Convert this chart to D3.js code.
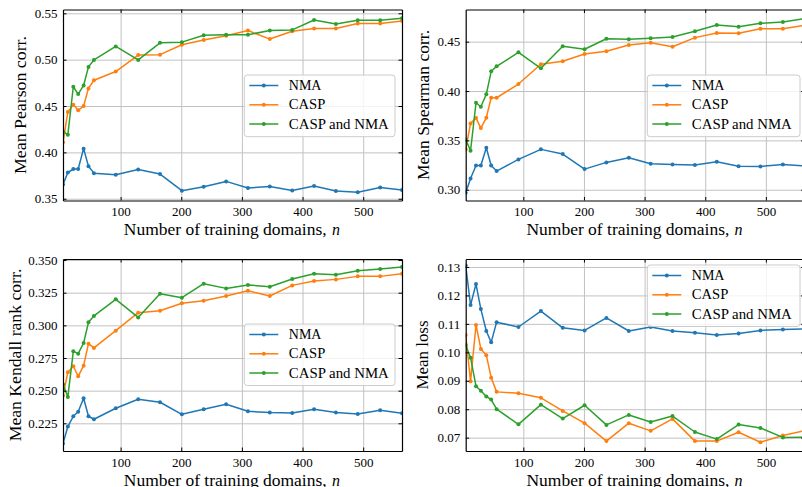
<!DOCTYPE html>
<html>
<head>
<meta charset="utf-8">
<script src="https://cdn.jsdelivr.net/npm/d3@7/dist/d3.min.js"></script>
<style>
  html, body { margin: 0; padding: 0; background: #fff; }
  svg { display: block; }
  text { font-family: "Liberation Serif", "Times New Roman", serif; fill: #000; }
</style>
</head>
<body>
<svg id="chart" width="802" height="487"></svg>
<script>
// ---------------- data ----------------
const nDomains = [5, 13, 22, 30, 39, 47, 56, 92, 129, 165, 201, 237, 274, 310, 346, 383, 419, 455, 491, 528, 564];
const seriesNames = ["NMA", "CASP", "CASP and NMA"];
const xTicks = [100, 200, 300, 400, 500];

const pearsonNMA  = [0.3654, 0.3783, 0.382, 0.382, 0.404, 0.385, 0.3776, 0.3758, 0.3815, 0.3766, 0.3587, 0.363, 0.3687, 0.3616, 0.3633, 0.359, 0.3637, 0.3584, 0.3569, 0.3622, 0.3594];
const pearsonCASP = [0.4108, 0.4436, 0.4515, 0.4454, 0.45, 0.469, 0.4778, 0.4872, 0.505, 0.5054, 0.5161, 0.5211, 0.5257, 0.5314, 0.5222, 0.5307, 0.5335, 0.5335, 0.5389, 0.5389, 0.5418];
const pearsonBoth = [0.4226, 0.419, 0.4708, 0.4629, 0.4722, 0.4922, 0.4997, 0.5143, 0.4997, 0.5182, 0.5189, 0.5264, 0.5268, 0.5268, 0.5314, 0.5321, 0.5428, 0.5385, 0.5425, 0.5425, 0.5446];
const pearsonTicks = [0.35, 0.40, 0.45, 0.50, 0.55];

const spearmanNMA  = [0.2969, 0.3114, 0.3246, 0.3246, 0.3425, 0.3246, 0.3189, 0.3307, 0.3409, 0.3361, 0.3209, 0.3277, 0.3324, 0.3263, 0.3256, 0.325, 0.3283, 0.3239, 0.3236, 0.3256, 0.3242];
const spearmanCASP = [0.3409, 0.3672, 0.3726, 0.3625, 0.3729, 0.3932, 0.3932, 0.4071, 0.4271, 0.4301, 0.4375, 0.4403, 0.4467, 0.449, 0.4449, 0.4541, 0.4588, 0.4585, 0.4632, 0.4632, 0.4666];
const spearmanBoth = [0.351, 0.3395, 0.3881, 0.3841, 0.3967, 0.42, 0.425, 0.4392, 0.423, 0.4453, 0.4423, 0.453, 0.4524, 0.4534, 0.4548, 0.4605, 0.4669, 0.4652, 0.4687, 0.47, 0.4733];
const spearmanTicks = [0.30, 0.35, 0.40, 0.45];

const kendallNMA  = [0.2095, 0.2225, 0.2304, 0.2339, 0.2442, 0.2304, 0.2281, 0.2365, 0.2434, 0.2411, 0.2319, 0.2358, 0.2396, 0.2342, 0.2332, 0.2329, 0.2358, 0.2332, 0.2322, 0.235, 0.2327];
const kendallCASP = [0.2462, 0.2641, 0.2687, 0.261, 0.2691, 0.286, 0.2827, 0.2959, 0.3097, 0.3112, 0.3169, 0.3189, 0.3225, 0.3265, 0.3225, 0.3306, 0.3339, 0.3352, 0.3375, 0.3375, 0.3395];
const kendallBoth = [0.2549, 0.2452, 0.2801, 0.2783, 0.2865, 0.3023, 0.3072, 0.3199, 0.3061, 0.3242, 0.3212, 0.3319, 0.3283, 0.3309, 0.3296, 0.3355, 0.3395, 0.3388, 0.3418, 0.3431, 0.3446];
const kendallTicks = [0.225, 0.250, 0.275, 0.300, 0.325, 0.350];

const lossNMA  = [0.1305, 0.1166, 0.124, 0.1152, 0.1075, 0.1035, 0.1106, 0.1089, 0.1145, 0.1086, 0.1077, 0.1121, 0.1075, 0.1089, 0.1075, 0.1069, 0.1061, 0.1066, 0.1077, 0.108, 0.1082];
const lossCASP = [0.1061, 0.0898, 0.1096, 0.1012, 0.099, 0.0911, 0.0861, 0.0856, 0.084, 0.0794, 0.0751, 0.0688, 0.0751, 0.0724, 0.0766, 0.0688, 0.0688, 0.0719, 0.0684, 0.0708, 0.0725];
const lossBoth = [0.1026, 0.0981, 0.0881, 0.0865, 0.0845, 0.0834, 0.08, 0.0747, 0.0816, 0.0767, 0.0814, 0.0745, 0.078, 0.0755, 0.0776, 0.072, 0.0695, 0.0746, 0.0734, 0.0701, 0.0702];
const lossTicks = [0.07, 0.08, 0.09, 0.10, 0.11, 0.12, 0.13];

const xLabel = "Number of training domains,";
const xLabelVar = "n";

// ---------------- layout ----------------
const colors = ["#1f77b4", "#ff7f0e", "#2ca02c"];
const PW = 339;
const panels = [
  { x0: 63,    y0: 9.5, h: 191, yDom: [0.3481, 0.5541], ticks: pearsonTicks,  fmt: ".2f", label: "Mean Pearson corr.",      labelLen: 138,   labelCx: 20,
    series: [pearsonNMA, pearsonCASP, pearsonBoth],    leg: { x: 244.3, y: 75,  w: 150.7, h: 61.7 } },
  { x0: 465.7, y0: 9.5, h: 191, yDom: [0.2891, 0.4826], ticks: spearmanTicks, fmt: ".2f", label: "Mean Spearman corr.",     labelLen: 150,   labelCx: 423.3,
    series: [spearmanNMA, spearmanCASP, spearmanBoth], leg: { x: 647.3, y: 75,  w: 152.7, h: 61.7 } },
  { x0: 63,    y0: 259, h: 192, yDom: [0.2038, 0.3508], ticks: kendallTicks,  fmt: ".3f", label: "Mean Kendall rank corr.", labelLen: 172.6, labelCx: 15,
    series: [kendallNMA, kendallCASP, kendallBoth],    leg: { x: 244.3, y: 324, w: 150.7, h: 61.5 } },
  { x0: 465.7, y0: 259, h: 192, yDom: [0.06532, 0.1328], ticks: lossTicks,    fmt: ".2f", label: "Mean loss",               labelLen: 69,    labelCx: 422.7,
    series: [lossNMA, lossCASP, lossBoth],             leg: { x: 647.3, y: 265, w: 152.7, h: 61.5 } }
];

const svg = d3.select("#chart");
const defs = svg.append("defs");

panels.forEach((p, i) => {
  const x = d3.scaleLinear().domain([nDomains[0], nDomains[nDomains.length - 1]]).range([p.x0, p.x0 + PW]);
  const y = d3.scaleLinear().domain(p.yDom).range([p.y0 + p.h, p.y0]);
  const g = svg.append("g");

  defs.append("clipPath").attr("id", "clip" + i)
    .append("rect").attr("x", p.x0).attr("y", p.y0).attr("width", PW).attr("height", p.h);

  // grid
  const gx = g.append("g").attr("transform", `translate(0,${p.y0 + p.h})`)
    .call(d3.axisBottom(x).tickValues(xTicks).tickSize(-p.h).tickFormat(""));
  const gy = g.append("g").attr("transform", `translate(${p.x0},0)`)
    .call(d3.axisLeft(y).tickValues(p.ticks).tickSize(-PW).tickFormat(""));
  [gx, gy].forEach(a => {
    a.select(".domain").remove();
    a.selectAll(".tick line").attr("stroke", "#c2c2c2").attr("stroke-width", 1);
  });

  // series
  const plot = g.append("g").attr("clip-path", `url(#clip${i})`);
  p.series.forEach((vals, k) => {
    const pts = nDomains.map((n, j) => [n, vals[j]]);
    plot.append("path")
      .attr("d", d3.line().x(d => x(d[0])).y(d => y(d[1]))(pts))
      .attr("fill", "none").attr("stroke", colors[k]).attr("stroke-width", 1.5)
      .attr("stroke-linejoin", "round");
    plot.selectAll(null).data(pts).enter().append("circle")
      .attr("cx", d => x(d[0])).attr("cy", d => y(d[1])).attr("r", 2)
      .attr("fill", colors[k]);
  });

  // axes with inward ticks
  const TL = 3.5;
  const ab = g.append("g").attr("transform", `translate(0,${p.y0 + p.h})`)
    .call(d3.axisBottom(x).tickValues(xTicks).tickSize(-TL).tickSizeOuter(0).tickPadding(6.3).tickFormat(d3.format("d")));
  const at = g.append("g").attr("transform", `translate(0,${p.y0})`)
    .call(d3.axisTop(x).tickValues(xTicks).tickSize(-TL).tickSizeOuter(0).tickFormat(""));
  const al = g.append("g").attr("transform", `translate(${p.x0},0)`)
    .call(d3.axisLeft(y).tickValues(p.ticks).tickSize(-TL).tickSizeOuter(0).tickPadding(5.5).tickFormat(d3.format(p.fmt)));
  const ar = g.append("g").attr("transform", `translate(${p.x0 + PW},0)`)
    .call(d3.axisRight(y).tickValues(p.ticks).tickSize(-TL).tickSizeOuter(0).tickFormat(""));
  [ab, at, al, ar].forEach(a => {
    a.select(".domain").attr("stroke", "#000").attr("stroke-width", 1.2);
    a.selectAll(".tick line").attr("stroke", "#000").attr("stroke-width", 1);
    a.selectAll(".tick text").attr("font-family", "Liberation Serif").attr("font-size", 13).attr("fill", "#000");
  });

  // x label
  const cx = p.x0 + PW / 2;
  const by = p.y0 + p.h + 34.5;
  g.append("text").attr("x", cx - 108.7).attr("y", by)
    .attr("font-size", 16).attr("textLength", 202.8).attr("lengthAdjust", "spacingAndGlyphs")
    .text(xLabel);
  g.append("text").attr("x", cx + 99.4).attr("y", by)
    .attr("font-size", 16).attr("font-style", "italic").text(xLabelVar);

  // y label
  const cy = p.y0 + p.h / 2;
  g.append("text")
    .attr("transform", `translate(${p.labelCx + 5.6},${cy}) rotate(-90)`)
    .attr("x", -p.labelLen / 2).attr("y", 0)
    .attr("font-size", 16).attr("textLength", p.labelLen).attr("lengthAdjust", "spacingAndGlyphs")
    .text(p.label);

  // legend
  const L = p.leg;
  const lg = g.append("g");
  lg.append("rect").attr("x", L.x).attr("y", L.y).attr("width", L.w).attr("height", L.h)
    .attr("rx", 3).attr("fill", "#fff").attr("fill-opacity", 0.8)
    .attr("stroke", "#cccccc").attr("stroke-width", 1);
  const rows = [10.5, 29.8, 49];
  const lens = [32.6, 36.6, 100];
  seriesNames.forEach((name, k) => {
    const ry = L.y + rows[k];
    lg.append("line").attr("x1", L.x + 5).attr("x2", L.x + 34).attr("y1", ry).attr("y2", ry)
      .attr("stroke", colors[k]).attr("stroke-width", 1.5);
    lg.append("circle").attr("cx", L.x + 19.5).attr("cy", ry).attr("r", 2).attr("fill", colors[k]);
    lg.append("text").attr("x", L.x + 44.5).attr("y", ry + 4.6)
      .attr("font-size", 14).attr("textLength", lens[k]).attr("lengthAdjust", "spacingAndGlyphs")
      .text(name);
  });
});
</script>
</body>
</html>
